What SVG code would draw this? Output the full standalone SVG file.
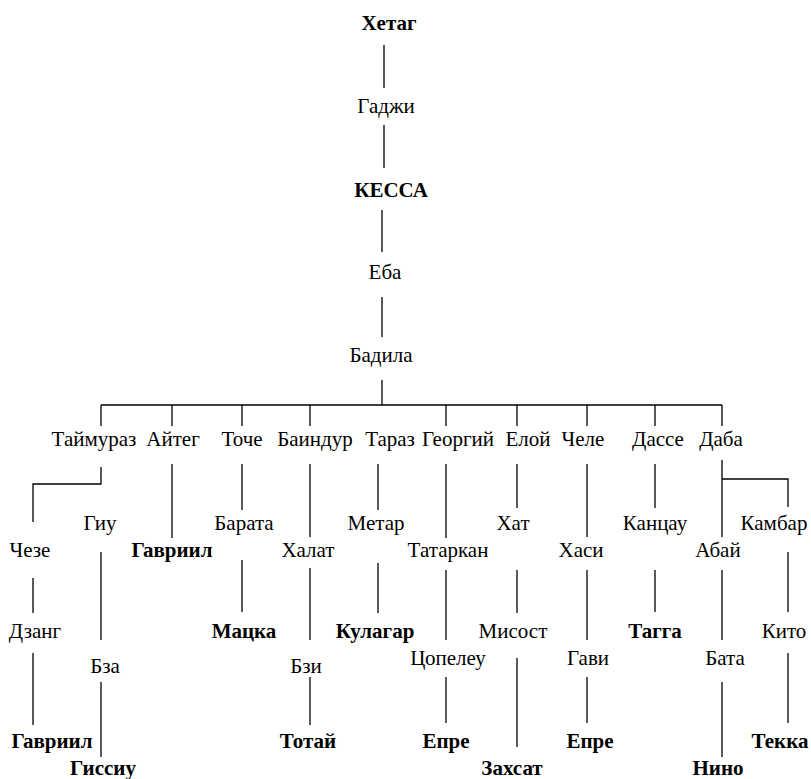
<svg xmlns="http://www.w3.org/2000/svg" width="811" height="779" viewBox="0 0 811 779">
<style>
text{font-family:"Liberation Serif","Times New Roman",serif;font-size:21px;fill:#000;text-anchor:middle}
.b{font-weight:bold}
#connectors line,#connectors path{stroke:#000;stroke-width:1.3;fill:none}
</style>
<rect width="811" height="779" fill="#fff"/>
<g id="connectors">
<line x1="384" y1="45" x2="384" y2="88"/>
<line x1="384" y1="125" x2="384" y2="168"/>
<line x1="382" y1="210" x2="382" y2="252"/>
<line x1="382" y1="297" x2="382" y2="337"/>
<line x1="382" y1="380" x2="382" y2="405"/>
<line x1="101" y1="405" x2="722" y2="405"/>
<line x1="101" y1="405" x2="101" y2="426"/>
<line x1="172" y1="405" x2="172" y2="426"/>
<line x1="242" y1="405" x2="242" y2="426"/>
<line x1="310" y1="405" x2="310" y2="426"/>
<line x1="446" y1="405" x2="446" y2="426"/>
<line x1="517" y1="405" x2="517" y2="426"/>
<line x1="587" y1="405" x2="587" y2="426"/>
<line x1="655" y1="405" x2="655" y2="426"/>
<line x1="722" y1="405" x2="722" y2="426"/>
<path d="M101,467 V484 H33 V522"/>
<line x1="101" y1="552" x2="101" y2="640"/>
<line x1="101" y1="682" x2="101" y2="757"/>
<line x1="33" y1="578" x2="33" y2="613"/>
<line x1="33" y1="653" x2="33" y2="725"/>
<line x1="172" y1="464" x2="172" y2="538"/>
<line x1="242" y1="464" x2="242" y2="510"/>
<line x1="242" y1="560" x2="242" y2="612"/>
<line x1="310" y1="464" x2="310" y2="537"/>
<line x1="310" y1="568" x2="310" y2="640"/>
<line x1="310" y1="677" x2="310" y2="725"/>
<line x1="378" y1="464" x2="378" y2="510"/>
<line x1="378" y1="563" x2="378" y2="613"/>
<line x1="446" y1="464" x2="446" y2="538"/>
<line x1="446" y1="570" x2="446" y2="640"/>
<line x1="446" y1="677" x2="446" y2="723"/>
<line x1="517" y1="464" x2="517" y2="508"/>
<line x1="517" y1="570" x2="517" y2="613"/>
<line x1="517" y1="658" x2="517" y2="747"/>
<line x1="587" y1="464" x2="587" y2="537"/>
<line x1="587" y1="570" x2="587" y2="640"/>
<line x1="587" y1="677" x2="587" y2="723"/>
<line x1="655" y1="464" x2="655" y2="508"/>
<line x1="655" y1="570" x2="655" y2="612"/>
<path d="M722,460 V537 M722,479 H788 V507"/>
<line x1="722" y1="570" x2="722" y2="640"/>
<line x1="722" y1="682" x2="722" y2="757"/>
<line x1="788" y1="552" x2="788" y2="612"/>
<line x1="788" y1="653" x2="788" y2="723"/>
</g>
<g id="n-khetag"><text class="b" x="389" y="30">Хетаг</text></g>
<g id="n-gadzhi"><text x="386" y="113">Гаджи</text></g>
<g id="n-kessa"><text class="b" x="391" y="197">КЕССА</text></g>
<g id="n-eba"><text x="385" y="279">Еба</text></g>
<g id="n-badila"><text x="381" y="362">Бадила</text></g>
<g id="n-taimuraz"><text x="94" y="446">Таймураз</text></g>
<g id="n-aiteg"><text x="173" y="446">Айтег</text></g>
<g id="n-toche"><text x="242" y="446">Точе</text></g>
<g id="n-baindur"><text x="315" y="446">Баиндур</text></g>
<g id="n-taraz"><text x="390" y="446">Тараз</text></g>
<g id="n-georgii"><text x="458" y="446">Георгий</text></g>
<g id="n-eloi"><text x="528" y="446">Елой</text></g>
<g id="n-chele"><text x="583" y="446">Челе</text></g>
<g id="n-dasse"><text x="658" y="446">Дассе</text></g>
<g id="n-daba"><text x="721" y="446">Даба</text></g>
<g id="n-cheze"><text x="30" y="557">Чезе</text></g>
<g id="n-giu"><text x="100" y="530">Гиу</text></g>
<g id="n-dzang"><text x="35" y="638">Дзанг</text></g>
<g id="n-gavriil1"><text class="b" x="52" y="748">Гавриил</text></g>
<g id="n-bza"><text x="105" y="673">Бза</text></g>
<g id="n-gissiu"><text class="b" x="103" y="775">Гиссиу</text></g>
<g id="n-gavriil2"><text class="b" x="172" y="557">Гавриил</text></g>
<g id="n-barata"><text x="244" y="530">Барата</text></g>
<g id="n-matska"><text class="b" x="244" y="638">Мацка</text></g>
<g id="n-khalat"><text x="308" y="557">Халат</text></g>
<g id="n-bzi"><text x="306" y="673">Бзи</text></g>
<g id="n-totai"><text class="b" x="308" y="748">Тотай</text></g>
<g id="n-metar"><text x="376" y="530">Метар</text></g>
<g id="n-kulagar"><text class="b" x="375" y="638">Кулагар</text></g>
<g id="n-tatarkan"><text x="448" y="557">Татаркан</text></g>
<g id="n-tsopeleu"><text x="448" y="665">Цопелеу</text></g>
<g id="n-epre1"><text class="b" x="446" y="748">Епре</text></g>
<g id="n-khat"><text x="513" y="530">Хат</text></g>
<g id="n-misost"><text x="513" y="638">Мисост</text></g>
<g id="n-zakhsat"><text class="b" x="512" y="775">Захсат</text></g>
<g id="n-khasi"><text x="581" y="557">Хаси</text></g>
<g id="n-gavi"><text x="588" y="665">Гави</text></g>
<g id="n-epre2"><text class="b" x="590" y="748">Епре</text></g>
<g id="n-kantsau"><text x="655" y="530">Канцау</text></g>
<g id="n-tagga"><text class="b" x="655" y="638">Тагга</text></g>
<g id="n-kambar"><text x="774" y="530">Камбар</text></g>
<g id="n-abai"><text x="718" y="557">Абай</text></g>
<g id="n-bata"><text x="725" y="665">Бата</text></g>
<g id="n-nino"><text class="b" x="718" y="775">Нино</text></g>
<g id="n-kito"><text x="784" y="638">Кито</text></g>
<g id="n-tekka"><text class="b" x="780" y="748">Текка</text></g>
</svg>
